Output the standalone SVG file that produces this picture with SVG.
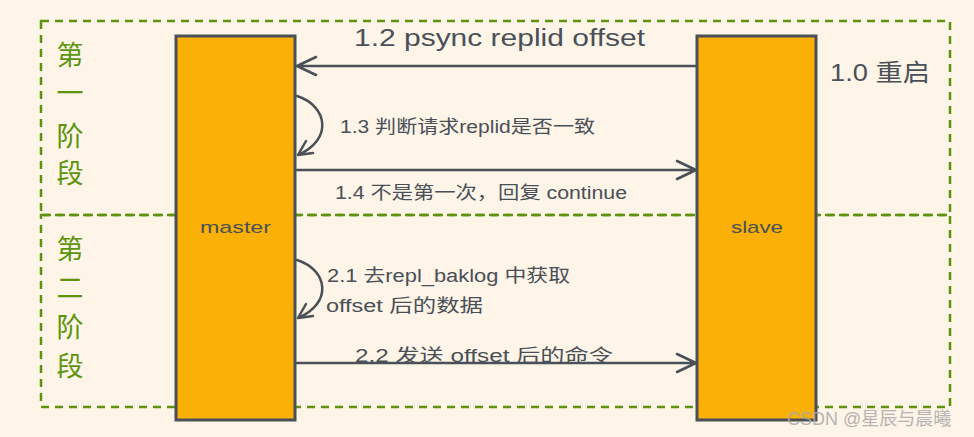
<svg xmlns="http://www.w3.org/2000/svg" width="974" height="437" viewBox="0 0 974 437">
<defs>
<style>
.bg{fill:#fef4e8}
.phase{fill:none;stroke:#5c940d;stroke-width:2.5;stroke-dasharray:8 6}
.life{fill:#fab005;stroke:#495057;stroke-width:3}
.con{fill:none;stroke:#495057;stroke-width:2.5;stroke-linecap:round;stroke-linejoin:round}
.t{font-family:"Liberation Sans","Noto Sans CJK SC",sans-serif;fill:#495057}
.g{font-family:"Noto Sans CJK SC","Liberation Sans",sans-serif;fill:#5c940d;font-size:27px;text-anchor:middle}
.wm{font-family:"Liberation Sans","Noto Sans CJK SC",sans-serif;fill:#a9a9a9;font-size:18px;opacity:0.85}
</style>
</defs>
<rect class="bg" x="0" y="0" width="974" height="437"/>

<g id="phase1">
<rect class="phase" x="41" y="21" width="909" height="194"/>
<text class="g" x="70" y="65">第</text>
<text class="g" x="70" y="103">一</text>
<text class="g" x="70" y="146">阶</text>
<text class="g" x="70" y="183">段</text>
</g>
<g id="phase2">
<rect class="phase" x="41" y="215" width="909" height="192"/>
<text class="g" x="70" y="259">第</text>
<text class="g" x="70" y="298">二</text>
<text class="g" x="70" y="337">阶</text>
<text class="g" x="70" y="376">段</text>
</g>

<g id="master">
<rect class="life" x="176" y="36" width="119" height="384"/>
<text class="t" x="200" y="233" font-size="17" textLength="71" lengthAdjust="spacingAndGlyphs">master</text>
</g>
<g id="slave">
<rect class="life" x="697" y="36" width="119" height="384"/>
<text class="t" x="731" y="233" font-size="17" textLength="52" lengthAdjust="spacingAndGlyphs">slave</text>
<text class="t" x="830" y="81" font-size="24" textLength="100" lengthAdjust="spacingAndGlyphs">1.0 重启</text>
</g>

<g id="connectors">
<path class="con" d="M697 66 L297 66 M316 57 L297 66 L316 75"/>
<path class="con" d="M297 96 C328 106 333 140 298 155 M306 141 L298 155 L313 153"/>
<path class="con" d="M297 170 L696 170 M677 161 L696 170 L677 179"/>
<path class="con" d="M297 260 C328 270 333 303 298 318 M306 304 L298 318 L313 316"/>
<path class="con" d="M297 363 L696 363 M677 354 L696 363 L677 372"/>
</g>

<g id="labels">
<text class="t" x="354" y="46" font-size="23" textLength="291" lengthAdjust="spacingAndGlyphs">1.2 psync replid offset</text>
<text class="t" x="340" y="133" font-size="18" textLength="255" lengthAdjust="spacingAndGlyphs">1.3 判断请求replid是否一致</text>
<text class="t" x="335" y="199" font-size="18" textLength="292" lengthAdjust="spacingAndGlyphs">1.4 不是第一次，回复 continue</text>
<text class="t" x="327" y="282" font-size="18" textLength="243" lengthAdjust="spacingAndGlyphs">2.1 去repl_baklog 中获取</text>
<text class="t" x="326" y="312" font-size="18" textLength="157" lengthAdjust="spacingAndGlyphs">offset 后的数据</text>
<text class="t" x="355" y="362" font-size="18" textLength="258" lengthAdjust="spacingAndGlyphs">2.2 发送 offset 后的命令</text>
</g>

<text class="wm" x="787" y="425">CSDN @星辰与晨曦</text>
</svg>
